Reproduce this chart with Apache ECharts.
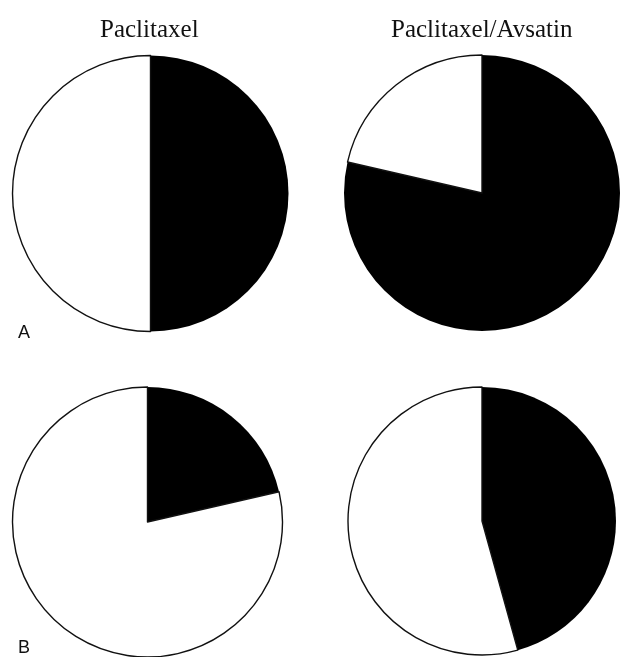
<!DOCTYPE html>
<html>
<head>
<meta charset="utf-8">
<script src="https://cdn.jsdelivr.net/npm/echarts@6/dist/echarts.min.js"></script>
<style>
  html, body { margin: 0; padding: 0; background: #fff; }
  #chart { width: 620px; height: 657px; }
</style>
</head>
<body>
<div id="chart"></div>
<script>
// Group headings and panel letters
const groups = ['Paclitaxel', 'Paclitaxel/Avsatin'];
const panels = ['A', 'B'];
const sliceNames = ['Responders', 'Non-responders'];

// Percent shares per pie: [black slice, white slice]
const panelA_paclitaxel = [50, 50];
const panelA_combo = [78.6, 21.4];
const panelB_paclitaxel = [21.4, 78.6];
const panelB_combo = [45.7, 54.3];

const chart = echarts.init(document.getElementById('chart'), null, { renderer: 'canvas' });

const layout = [
  { values: panelA_paclitaxel, center: [150.5, 193.5], r: 138 },
  { values: panelA_combo, center: [482, 193], r: 138 },
  { values: panelB_paclitaxel, center: [147.5, 522], r: 135 },
  { values: panelB_combo, center: [482, 521], r: 134 }
];

const series = layout.map(p => ({
  type: 'pie',
  center: p.center,
  radius: [0, p.r],
  startAngle: 90,
  clockwise: true,
  silent: true,
  label: { show: false },
  labelLine: { show: false },
  emphasis: { disabled: true },
  data: [
    { name: sliceNames[0], value: p.values[0],
      itemStyle: { color: '#000', borderColor: '#000', borderWidth: 0 } },
    { name: sliceNames[1], value: p.values[1],
      itemStyle: { color: '#fff', borderColor: '#111', borderWidth: 1.4 } }
  ]
}));

const titleStyle = { fontFamily: 'Liberation Serif', fontSize: 25, fill: '#111', fontWeight: 'normal' };
const letterStyle = { fontFamily: 'Liberation Sans', fontSize: 18, fill: '#111', fontWeight: 'normal' };

chart.setOption({
  backgroundColor: '#fff',
  animation: false,
  graphic: [
    { type: 'text', left: 150 - 50, top: 18, style: Object.assign({ text: groups[0] }, titleStyle) },
    { type: 'text', left: 482 - 91, top: 18, style: Object.assign({ text: groups[1] }, titleStyle) },
    { type: 'text', left: 18, top: 324, style: Object.assign({ text: panels[0] }, letterStyle) },
    { type: 'text', left: 18, top: 639, style: Object.assign({ text: panels[1] }, letterStyle) }
  ],
  series: series
});
</script>
</body>
</html>
